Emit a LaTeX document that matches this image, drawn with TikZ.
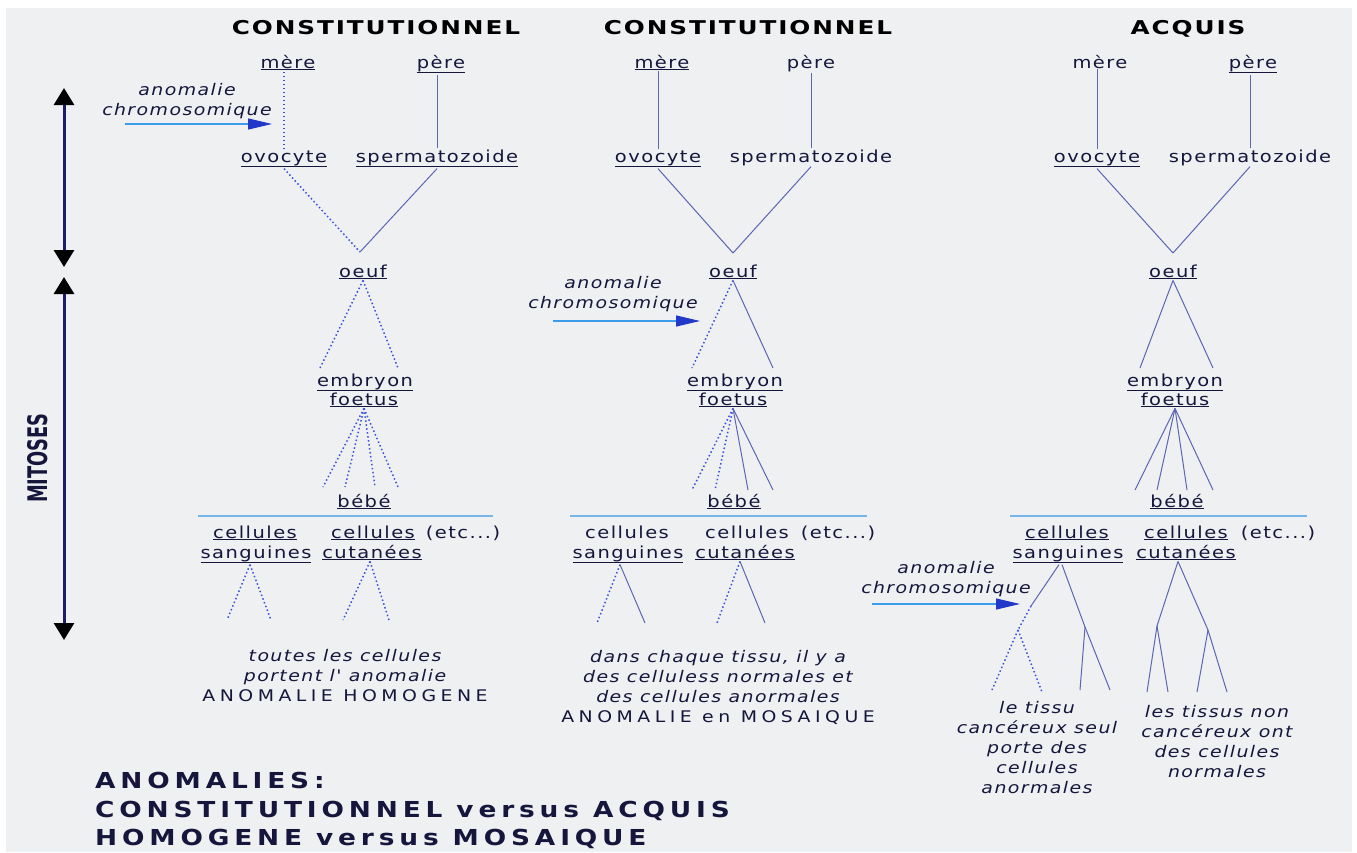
\documentclass[tikz,border=0pt]{standalone}
\usepackage{fontspec}
\setmainfont{DejaVu Sans}
\newfontfamily\labfont[LetterSpace=9,FakeStretch=1.18,BoldFont={DejaVu Sans Bold},ItalicFont={DejaVu Sans Oblique}]{DejaVu Sans}
\newfontfamily\ttlfont[LetterSpace=10,FakeStretch=1.3,BoldFont={DejaVu Sans Bold}]{DejaVu Sans}
\newfontfamily\capfont[LetterSpace=28,FakeStretch=1.18]{DejaVu Sans}
\newfontfamily\legfont[LetterSpace=22,FakeStretch=1.2,BoldFont={DejaVu Sans Bold}]{DejaVu Sans}
\usetikzlibrary{arrows.meta}

\definecolor{bg}{HTML}{EEF0F2}
\definecolor{ink}{HTML}{16163C}
\definecolor{lin}{HTML}{5C66B4}
\definecolor{dotc}{HTML}{3A52E0}
\definecolor{sep}{HTML}{78B6E8}
\definecolor{anoline}{HTML}{3C9BEA}
\definecolor{anohead}{HTML}{2238C8}
\definecolor{navy}{HTML}{1C1C6A}

\newsavebox\ulbox
\newcommand\ul[1]{\sbox\ulbox{#1}\rlap{\usebox\ulbox}\rule[-\dimexpr\dp\ulbox+2pt\relax]{\wd\ulbox}{1.2pt}}

\tikzset{%
	lbl/.style={font=\labfont\fontsize{16.5}{20}\selectfont, text=ink, inner sep=1pt, anchor=base},
	ttl/.style={font=\ttlfont\bfseries\fontsize{19}{23}\selectfont, text=black, inner sep=1pt, anchor=base},
	note/.style={font=\labfont\fontsize{16}{20}\selectfont, text=ink, inner sep=0pt, anchor=north, align=center},
	ano/.style={note, font=\labfont\itshape\fontsize{16}{20}\selectfont},
	br/.style={draw=lin, line width=1pt},
	brd/.style={draw=dotc, line width=1.5pt, dash pattern=on 1.5pt off 2.5pt},
	sepline/.style={draw=sep, line width=1.5pt},
	anoarr/.style={draw=anoline, line width=1.2pt, -{Triangle[length=24pt,width=11pt,color=anohead]}},
	mit/.style={draw=navy, line width=3pt, {Triangle[length=17pt,width=20pt,color=black]}-{Triangle[length=17pt,width=20pt,color=black]}}
}

\begin{document}
\begin{tikzpicture}[x=1pt,y=-1pt]
	\useasboundingbox (0,0) rectangle (1357,852);
	\fill[bg] (6,8) rectangle (1352,852);

	% titres
	\node[ttl] (t1) at (376,34) {CONSTITUTIONNEL};
	\node[ttl] (t2) at (748,34) {CONSTITUTIONNEL};
	\node[ttl] (t3) at (1188,34) {ACQUIS};

	% fleches mitoses
	\coordinate (mA) at (64,88);
	\coordinate (mB) at (64,267);
	\coordinate (mC) at (64,277);
	\coordinate (mD) at (64,640);
	\draw[mit] (mA) -- (mB);
	\draw[mit] (mC) -- (mD);
	\node[font=\bfseries\fontsize{27}{30}\selectfont, text=ink, rotate=90] (mit) at (38,458) {\scalebox{0.66}[1]{MITOSES}};

	% colonne 1
	\node[lbl] (m1) at (288,68) {\ul{mère}};
	\node[lbl] (p1) at (441,68) {\ul{père}};
	\node[lbl] (o1) at (284,162) {\ul{ovocyte}};
	\node[lbl] (s1) at (437,162) {\ul{spermatozoide}};
	\node[lbl] (oeuf1) at (363,277) {\ul{oeuf}};
	\node[lbl] (emb1) at (365,386) {\ul{embryon}};
	\node[lbl] (foe1) at (364,405) {\ul{foetus}};
	\node[lbl] (bb1) at (364,507) {\ul{bébé}};
	\node[lbl] (cs1) at (255,538) {\ul{cellules}};
	\node[lbl] (san1) at (256,558) {\ul{sanguines}};
	\node[lbl] (cc1) at (373,538) {\ul{cellules}};
	\node[lbl] (cut1) at (372,558) {\ul{cutanées}};
	\node[lbl] (etc1) at (463,538) {(etc...)};
	\node[note] (n1) at (345,649) {{\itshape toutes les cellules}\\{\itshape portent l' anomalie}\\{\capfont ANOMALIE HOMOGENE}};

	\node[ano] (a1) at (187,83) {anomalie\\chromosomique};
	\coordinate (a1s) at (125,124);
	\coordinate (a1e) at (272,124);
	\draw[anoarr] (a1s) -- (a1e);

	\coordinate (k1) at (360,252);
	\coordinate (e1a) at (320,368);
	\coordinate (e1b) at (398,368);
	\coordinate (b1a) at (323,487);
	\coordinate (b1b) at (345,487);
	\coordinate (b1c) at (375,487);
	\coordinate (b1d) at (398,487);
	\coordinate (h1a) at (198,516);
	\coordinate (h1b) at (493,516);
	\coordinate (c1a) at (227,620);
	\coordinate (c1b) at (271,620);
	\coordinate (c1c) at (343,620);
	\coordinate (c1d) at (389,620);

	\draw[brd] (o1.north) -- (o1.north |- m1.south);
	\draw[br] (s1.north) -- (s1.north |- p1.south);
	\draw[brd] (o1.south) -- (k1);
	\draw[br] (s1.south) -- (k1);
	\draw[brd] (oeuf1.south) -- (e1a);
	\draw[brd] (oeuf1.south) -- (e1b);
	\draw[brd] (foe1.south) -- (b1a);
	\draw[brd] (foe1.south) -- (b1b);
	\draw[brd] (foe1.south) -- (b1c);
	\draw[brd] (foe1.south) -- (b1d);
	\draw[sepline] (h1a) -- (h1b);
	\draw[brd] ([xshift=-6pt]san1.south) -- (c1a);
	\draw[brd] ([xshift=-6pt]san1.south) -- (c1b);
	\draw[brd] ([xshift=-2pt]cut1.south) -- (c1c);
	\draw[brd] ([xshift=-2pt]cut1.south) -- (c1d);

	% colonne 2
	\node[lbl] (m2) at (662,68) {\ul{mère}};
	\node[lbl] (p2) at (811,68) {père};
	\node[lbl] (o2) at (658,162) {\ul{ovocyte}};
	\node[lbl] (s2) at (811,162) {spermatozoide};
	\node[lbl] (oeuf2) at (733,277) {\ul{oeuf}};
	\node[lbl] (emb2) at (735,386) {\ul{embryon}};
	\node[lbl] (foe2) at (733,405) {\ul{foetus}};
	\node[lbl] (bb2) at (734,507) {\ul{bébé}};
	\node[lbl] (cs2) at (627,538) {cellules};
	\node[lbl] (san2) at (628,558) {\ul{sanguines}};
	\node[lbl] (cc2) at (747,538) {cellules};
	\node[lbl] (cut2) at (745,558) {\ul{cutanées}};
	\node[lbl] (etc2) at (838,538) {(etc...)};
	\node[note] (n2) at (718,650) {{\itshape dans chaque tissu, il y a}\\{\itshape des celluless normales et}\\{\itshape des cellules anormales}\\{\capfont ANOMALIE en MOSAIQUE}};

	\node[ano] (a2) at (613,276) {anomalie\\chromosomique};
	\coordinate (a2s) at (553,321);
	\coordinate (a2e) at (700,321);
	\draw[anoarr] (a2s) -- (a2e);

	\coordinate (k2) at (733,253);
	\coordinate (e2a) at (692,368);
	\coordinate (e2b) at (773,368);
	\coordinate (b2a) at (692,490);
	\coordinate (b2b) at (715,490);
	\coordinate (b2c) at (748,490);
	\coordinate (b2d) at (773,490);
	\coordinate (h2a) at (570,516);
	\coordinate (h2b) at (867,516);
	\coordinate (c2a) at (597,623);
	\coordinate (c2b) at (645,623);
	\coordinate (c2c) at (717,623);
	\coordinate (c2d) at (765,623);

	\draw[br] (o2.north) -- (o2.north |- m2.south);
	\draw[br] (s2.north) -- (s2.north |- p2.south);
	\draw[br] (o2.south) -- (k2);
	\draw[br] (s2.south) -- (k2);
	\draw[brd] (oeuf2.south) -- (e2a);
	\draw[br] (oeuf2.south) -- (e2b);
	\draw[brd] (foe2.south) -- (b2a);
	\draw[brd] (foe2.south) -- (b2b);
	\draw[br] (foe2.south) -- (b2c);
	\draw[br] (foe2.south) -- (b2d);
	\draw[sepline] (h2a) -- (h2b);
	\draw[brd] ([xshift=-8pt]san2.south) -- (c2a);
	\draw[br] ([xshift=-8pt]san2.south) -- (c2b);
	\draw[brd] ([xshift=-5pt]cut2.south) -- (c2c);
	\draw[br] ([xshift=-5pt]cut2.south) -- (c2d);

	% colonne 3
	\node[lbl] (m3) at (1100,68) {mère};
	\node[lbl] (p3) at (1253,68) {\ul{père}};
	\node[lbl] (o3) at (1097,162) {\ul{ovocyte}};
	\node[lbl] (s3) at (1250,162) {spermatozoide};
	\node[lbl] (oeuf3) at (1173,277) {\ul{oeuf}};
	\node[lbl] (emb3) at (1175,386) {\ul{embryon}};
	\node[lbl] (foe3) at (1175,405) {\ul{foetus}};
	\node[lbl] (bb3) at (1177,507) {\ul{bébé}};
	\node[lbl] (cs3) at (1067,538) {\ul{cellules}};
	\node[lbl] (san3) at (1068,558) {\ul{sanguines}};
	\node[lbl] (cc3) at (1186,538) {\ul{cellules}};
	\node[lbl] (cut3) at (1186,558) {\ul{cutanées}};
	\node[lbl] (etc3) at (1278,538) {(etc...)};
	\node[note] (n3a) at (1037,701) {{\itshape le tissu}\\{\itshape cancéreux seul}\\{\itshape porte des}\\{\itshape cellules}\\{\itshape anormales}};
	\node[note] (n3b) at (1217,705) {{\itshape les tissus non}\\{\itshape cancéreux ont}\\{\itshape des cellules}\\{\itshape normales}};

	\node[ano] (a3) at (946,561) {anomalie\\chromosomique};
	\coordinate (a3s) at (872,604);
	\coordinate (a3e) at (1020,604);
	\draw[anoarr] (a3s) -- (a3e);

	\coordinate (k3) at (1173,253);
	\coordinate (e3a) at (1140,368);
	\coordinate (e3b) at (1213,368);
	\coordinate (b3a) at (1135,490);
	\coordinate (b3b) at (1157,490);
	\coordinate (b3c) at (1187,490);
	\coordinate (b3d) at (1213,490);
	\coordinate (h3a) at (1010,516);
	\coordinate (h3b) at (1307,516);
	\coordinate (q3) at (1031,606);
	\coordinate (j3a) at (1018,630);
	\coordinate (j3b) at (1085,627);
	\coordinate (j3c) at (1157,626);
	\coordinate (j3d) at (1208,630);
	\coordinate (d3a) at (992,690);
	\coordinate (d3b) at (1042,692);
	\coordinate (d3c) at (1080,690);
	\coordinate (d3d) at (1110,690);
	\coordinate (d3e) at (1147,692);
	\coordinate (d3f) at (1168,692);
	\coordinate (d3g) at (1197,692);
	\coordinate (d3h) at (1227,692);

	\draw[br] (o3.north) -- (o3.north |- m3.south);
	\draw[br] (s3.north) -- (s3.north |- p3.south);
	\draw[br] (o3.south) -- (k3);
	\draw[br] (s3.south) -- (k3);
	\draw[br] (oeuf3.south) -- (e3a);
	\draw[br] (oeuf3.south) -- (e3b);
	\draw[br] (foe3.south) -- (b3a);
	\draw[br] (foe3.south) -- (b3b);
	\draw[br] (foe3.south) -- (b3c);
	\draw[br] (foe3.south) -- (b3d);
	\draw[sepline] (h3a) -- (h3b);
	\draw[br] ([xshift=-9pt]san3.south) -- (q3);
	\draw[brd] (q3) -- (j3a);
	\draw[brd] (j3a) -- (d3a);
	\draw[brd] (j3a) -- (d3b);
	\draw[br] ([xshift=-6pt]san3.south) -- (j3b);
	\draw[br] (j3b) -- (d3c);
	\draw[br] (j3b) -- (d3d);
	\draw[br] ([xshift=-8pt]cut3.south) -- (j3c);
	\draw[br] ([xshift=-8pt]cut3.south) -- (j3d);
	\draw[br] (j3c) -- (d3e);
	\draw[br] (j3c) -- (d3f);
	\draw[br] (j3d) -- (d3g);
	\draw[br] (j3d) -- (d3h);

	% legende
	\node[font=\legfont\bfseries\fontsize{22}{28.5}\selectfont, text=ink, align=left, anchor=north west, inner sep=0pt] (leg) at (95,772) {ANOMALIES:\\CONSTITUTIONNEL versus ACQUIS\\HOMOGENE versus MOSAIQUE};
\end{tikzpicture}
\end{document}
